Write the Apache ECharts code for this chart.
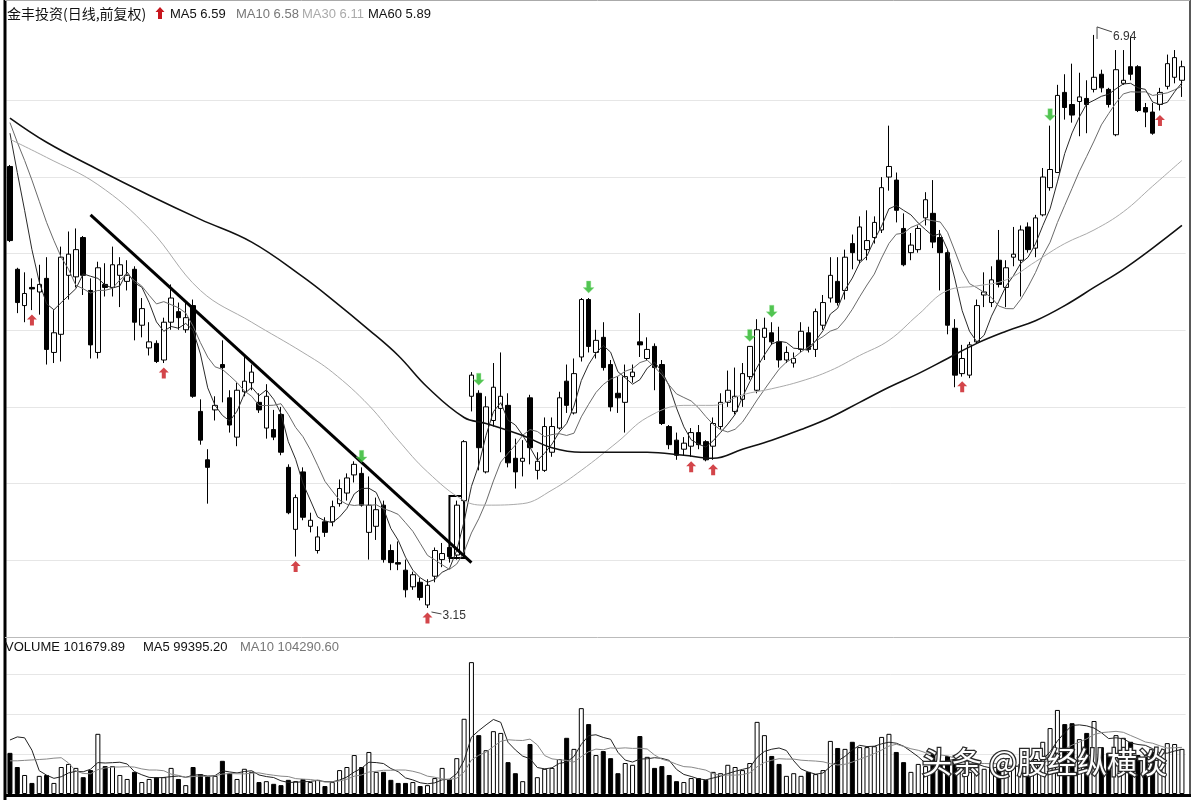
<!DOCTYPE html>
<html><head><meta charset="utf-8">
<script src="https://cdn.jsdelivr.net/npm/echarts@6/dist/echarts.min.js"></script>
<style>html,body{margin:0;padding:0;background:#fff}#c{width:1194px;height:800px}</style>
</head><body><div id="c"></div>
<script>
// [open, close, low, high]
const candles = [
[6.07,5.58,5.57,6.08],[5.39,5.17,5.10,5.40],[5.15,5.23,5.04,5.37],[5.27,5.26,5.12,5.33],[5.24,5.29,5.09,5.42],
[5.33,4.86,4.76,5.47],[4.84,4.97,4.77,5.12],[4.96,5.47,4.78,5.54],[5.35,5.49,5.19,5.64],[5.34,5.52,5.27,5.66],
[5.60,5.35,5.22,5.61],[5.25,4.89,4.80,5.33],[4.84,5.40,4.80,5.44],[5.29,5.27,5.21,5.43],[5.27,5.42,5.21,5.54],
[5.35,5.42,5.14,5.47],[5.31,5.35,5.25,5.45],[5.39,5.04,4.92,5.41],[5.02,5.13,4.94,5.20],[4.87,4.91,4.82,5.04],
[4.90,4.78,4.77,4.92],[4.79,5.04,4.77,5.07],[5.04,5.20,4.99,5.29],[5.11,5.07,4.99,5.17],[4.99,5.07,4.97,5.17],
[5.15,4.55,4.54,5.19],[4.45,4.26,4.23,4.53],[4.13,4.08,3.84,4.20],[4.46,4.49,4.39,4.55],[4.76,4.74,4.51,4.92],
[4.54,4.36,4.31,4.59],[4.28,4.59,4.22,4.64],[4.58,4.65,4.55,4.81],[4.64,4.71,4.59,4.76],[4.51,4.46,4.44,4.57],
[4.34,4.55,4.27,4.63],[4.33,4.28,4.26,4.46],[4.43,4.18,4.16,4.48],[4.08,3.78,3.77,4.10],[3.67,3.88,3.49,3.90],
[4.05,3.75,3.73,4.08],[3.69,3.73,3.65,3.78],[3.53,3.62,3.51,3.69],[3.72,3.65,3.62,3.75],[3.72,3.82,3.69,3.86],
[3.84,3.94,3.82,4.00],[3.91,4.01,3.86,4.04],[4.03,4.10,3.98,4.12],[4.04,3.83,3.82,4.08],[3.65,3.83,3.47,4.02],
[3.69,3.80,3.60,3.88],[3.83,3.47,3.45,3.86],[3.53,3.45,3.40,3.57],[3.45,3.44,3.40,3.59],[3.40,3.27,3.22,3.47],
[3.29,3.37,3.27,3.39],[3.32,3.22,3.20,3.35],[3.17,3.30,3.15,3.34],[3.36,3.53,3.32,3.55],[3.47,3.51,3.42,3.58],
[3.55,3.49,3.45,3.57],[3.50,3.83,3.47,3.86],[3.86,4.25,3.84,4.26],[4.55,4.69,4.45,4.71],[4.57,4.21,4.06,4.59],
[4.05,4.48,4.04,4.55],[4.39,4.61,4.35,4.77],[4.47,4.55,4.18,4.84],[4.49,4.11,4.08,4.57],[4.14,4.05,3.94,4.27],
[4.12,4.14,4.02,4.26],[4.54,4.21,4.10,4.56],[4.06,4.12,4.00,4.18],[4.06,4.35,4.05,4.41],[4.18,4.35,4.15,4.41],
[4.34,4.54,4.33,4.58],[4.65,4.49,4.44,4.76],[4.44,4.70,4.43,4.80],[4.81,5.19,4.78,5.20],[5.19,4.88,4.84,5.20],
[4.84,4.92,4.80,4.99],[4.94,4.74,4.72,5.04],[4.76,4.48,4.45,4.79],[4.57,4.54,4.44,4.68],[4.51,4.68,4.31,4.76],
[4.68,4.71,4.64,4.76],[4.91,4.89,4.81,5.10],[4.80,4.86,4.79,4.94],[4.88,4.74,4.59,4.90],[4.76,4.37,4.36,4.79],
[4.35,4.23,4.20,4.36],[4.26,4.16,4.13,4.31],[4.20,4.24,4.16,4.28],[4.22,4.31,4.15,4.34],[4.31,4.23,4.20,4.36],
[4.25,4.13,4.12,4.26],[4.22,4.37,4.13,4.41],[4.35,4.51,4.33,4.57],[4.51,4.59,4.48,4.72],[4.45,4.55,4.43,4.74],
[4.53,4.70,4.48,4.77],[4.68,4.88,4.66,4.88],[4.59,4.99,4.57,5.06],[4.94,5.00,4.79,5.07],[4.97,4.91,4.89,5.04],
[4.91,4.79,4.74,5.01],[4.79,4.84,4.77,4.88],[4.77,4.80,4.74,4.84],[4.86,4.98,4.84,5.04],[4.97,4.86,4.84,5.01],
[4.86,5.11,4.81,5.13],[5.02,5.17,4.99,5.22],[5.20,5.35,5.17,5.47],[5.31,5.17,5.15,5.47],[5.25,5.47,5.19,5.52],
[5.56,5.50,5.39,5.62],[5.45,5.67,5.43,5.74],[5.52,5.58,5.45,5.78],[5.60,5.70,5.56,5.74],[5.65,5.93,5.63,6.00],
[6.00,6.07,5.91,6.34],[5.98,5.78,5.70,6.03],[5.66,5.42,5.41,5.76],[5.50,5.55,5.45,5.63],[5.52,5.66,5.50,5.68],
[5.73,5.85,5.68,5.90],[5.76,5.57,5.53,5.98],[5.60,5.50,5.25,5.65],[5.50,5.02,4.96,5.52],[5.00,4.69,4.61,5.06],
[4.70,4.80,4.68,4.89],[4.69,4.89,4.67,4.91],[4.91,5.15,4.90,5.19],[5.22,5.24,5.14,5.37],[5.17,5.32,5.14,5.41],
[5.45,5.29,5.27,5.65],[5.27,5.40,5.14,5.45],[5.47,5.49,5.41,5.67],[5.45,5.65,5.21,5.68],[5.67,5.52,5.50,5.70],
[5.53,5.73,5.47,5.75],[5.75,6.00,5.74,6.06],[5.93,6.05,5.91,6.34],[6.03,6.54,6.03,6.61],[6.56,6.46,6.38,6.68],
[6.48,6.41,6.36,6.75],[6.50,6.53,6.27,6.69],[6.52,6.48,6.29,6.64],[6.58,6.66,6.56,6.94],[6.68,6.59,6.56,6.71],
[6.58,6.48,6.46,6.59],[6.28,6.71,6.27,6.84],[6.62,6.64,6.61,6.84],[6.73,6.68,6.64,6.93],[6.73,6.44,6.43,6.74],
[6.46,6.43,6.33,6.49],[6.43,6.29,6.28,6.49],[6.48,6.56,6.44,6.59],[6.60,6.75,6.58,6.81],[6.66,6.79,6.62,6.84],
[6.64,6.73,6.53,6.77]
];
// volume, thousands of shares
const volumes = [
93,61,43,25,41,43,25,61,68,59, 38,54,136,63,63,43,34,50,27,34,
38,38,59,34,20,61,45,41,41,75, 47,34,57,50,27,29,23,20,32,29,
34,27,32,18,27,54,61,88,61,95, 50,50,32,25,25,27,18,20,36,59,
34,81,170,298,133,99,142,138,72,47, 29,113,38,57,59,79,127,102,194,158,
88,97,81,47,70,66,131,84,59,63, 43,29,27,36,36,32,50,47,66,61,
54,70,163,133,86,68,41,47,41,50, 45,54,120,104,102,118,106,106,108,129,
136,95,72,50,68,63,90,72,86,79, 57,50,68,57,61,68,57,63,68,63,
79,118,149,190,158,160,124,138,165,106, 93,133,127,118,88,84,95,79,115,113,
102
];
// MA values visible at the left edge (before a full window of candles exists)
const ma5Head = [6.29, 6.03, 5.78, 5.52];
const ma10Head = [6.36, 6.23, 6.11, 5.98, 5.84, 5.70, 5.58, 5.47, 5.39];
const volMa5Head = [122, 129, 127, 99];
const volMa10Head = [75, 75, 76, 77, 78, 79, 81, 82, 70];
// MA30 / MA60: [candle index, price]
const ma30Points = [[0,6.25],[5,6.13],[12,5.95],[19,5.66],[26,5.25],[33,5.04],[40,4.84],[44,4.71],[49,4.49],[53,4.26],[57,4.05],[62,3.86],[65,3.83],[70,3.84],[74,3.93],[78,4.06],[83,4.25],[87,4.41],[92,4.49],[96,4.49],[100,4.56],[104,4.60],[108,4.65],[112,4.72],[116,4.82],[120,4.92],[124,5.09],[128,5.25],[132,5.28],[136,5.32],[140,5.44],[144,5.56],[148,5.65],[152,5.77],[156,5.94],[160,6.11]];
const ma60Points = [[0,6.39],[5,6.23],[12,6.05],[19,5.88],[26,5.72],[33,5.57],[40,5.34],[44,5.19],[49,4.99],[53,4.82],[57,4.61],[62,4.41],[65,4.37],[70,4.29],[74,4.21],[78,4.18],[83,4.18],[87,4.18],[92,4.16],[96,4.14],[100,4.20],[104,4.26],[108,4.33],[112,4.41],[116,4.51],[120,4.61],[124,4.70],[128,4.80],[132,4.90],[136,4.98],[140,5.05],[144,5.15],[148,5.27],[152,5.39],[156,5.53],[160,5.68]];
const buySignals = [3, 21, 39, 57, 93, 96, 130, 157];
const sellSignals = [48, 64, 79, 101, 104, 142];
const trendLine = [[11, 5.75], [63, 3.45]];
const boxRange = { from: 60, to: 62, top: 3.89, bottom: 3.48 };
const highLabel = { index: 148, value: 6.94, text: '6.94' };
const lowLabel = { index: 57, value: 3.15, text: '3.15' };
const titleText = '金丰投资(日线,前复权)';
const maLegend = [['MA5', '6.59'], ['MA10', '6.58'], ['MA30', '6.11'], ['MA60', '5.89']];
const volLegend = [['VOLUME', '101679.89'], ['MA5', '99395.20'], ['MA10', '104290.60']];
const watermark = '头条 @股经纵横谈';

const categories = candles.map((_, i) => String(i));
const closes = candles.map(c => c[1]);
function movingAvg(values, n, head, digits) {
  return values.map((_, i) => {
    if (i < n - 1) return head[i] !== undefined ? head[i] : null;
    let s = 0;
    for (let k = i - n + 1; k <= i; k++) s += values[k];
    return +(s / n).toFixed(digits);
  });
}
const ma5 = movingAvg(closes, 5, ma5Head, 3);
const ma10 = movingAvg(closes, 10, ma10Head, 3);
const vma5 = movingAvg(volumes, 5, volMa5Head, 1);
const vma10 = movingAvg(volumes, 10, volMa10Head, 1);
const volBars = volumes.map((v, i) => ({
  value: v,
  itemStyle: { color: candles[i][1] >= candles[i][0] ? '#ffffff' : '#000000', borderColor: '#000', borderWidth: 1 }
}));

const chart = echarts.init(document.getElementById('c'), null, { renderer: 'canvas' });
const L = 6.3, R = 8.4;
const gridColorsMain = ['rgba(0,0,0,0)', '#e6e6e6', '#e6e6e6', '#e6e6e6', '#e6e6e6', '#e6e6e6', '#e6e6e6', '#e6e6e6', 'rgba(0,0,0,0)'];
const gridColorsVol = ['rgba(0,0,0,0)', '#e6e6e6', '#e6e6e6', '#e6e6e6'];
const lineBase = { type: 'line', showSymbol: false, symbol: 'none', silent: true, z: 4 };

const option = {
  animation: false,
  backgroundColor: '#fff',
  grid: [
    { left: L, right: R, top: 5, height: 632 },
    { left: L, right: R, top: 657, height: 137 }
  ],
  xAxis: [
    { type: 'category', gridIndex: 0, data: categories, boundaryGap: true, show: false },
    { type: 'category', gridIndex: 1, data: categories, boundaryGap: true, show: false }
  ],
  yAxis: [
    { type: 'value', gridIndex: 0, min: 2.958, max: 7.138, show: false, scale: true },
    { type: 'value', gridIndex: 0, min: 0, max: 8.243, interval: 1, axisLine: { show: false }, axisTick: { show: false }, axisLabel: { show: false },
      splitLine: { show: true, lineStyle: { color: gridColorsMain, width: 1 } } },
    { type: 'value', gridIndex: 1, min: 0, max: 309.6, show: false },
    { type: 'value', gridIndex: 1, min: 0, max: 3.425, interval: 1, axisLine: { show: false }, axisTick: { show: false }, axisLabel: { show: false },
      splitLine: { show: true, lineStyle: { color: gridColorsVol, width: 1 } } }
  ],
  series: [
    {
      type: 'candlestick', xAxisIndex: 0, yAxisIndex: 0, data: candles, barWidth: 5, z: 3,
      itemStyle: { color: '#fff', color0: '#000', borderColor: '#000', borderColor0: '#000', borderWidth: 1 },
      markLine: {
        silent: true, symbol: ['none', 'none'], label: { show: false },
        lineStyle: { color: '#000', width: 3, type: 'solid' },
        data: [[{ coord: trendLine[0] }, { coord: trendLine[1] }]]
      },
      markArea: {
        silent: true, label: { show: false },
        itemStyle: { color: 'rgba(0,0,0,0)', borderColor: '#000', borderWidth: 2 },
        data: [[{ coord: [boxRange.from, boxRange.top] }, { coord: [boxRange.to, boxRange.bottom] }]]
      }
    },
    Object.assign({}, lineBase, { name: 'MA5', xAxisIndex: 0, yAxisIndex: 0, data: ma5, lineStyle: { color: '#2a2a2a', width: 1 } }),
    Object.assign({}, lineBase, { name: 'MA10', xAxisIndex: 0, yAxisIndex: 0, data: ma10, lineStyle: { color: '#6a6a6a', width: 1 } }),
    Object.assign({}, lineBase, { name: 'MA30', xAxisIndex: 0, yAxisIndex: 0, data: ma30Points, smooth: 0.4, lineStyle: { color: '#aaaaaa', width: 1 } }),
    Object.assign({}, lineBase, { name: 'MA60', xAxisIndex: 0, yAxisIndex: 0, data: ma60Points, smooth: 0.4, lineStyle: { color: '#111111', width: 1.6 } }),
    {
      type: 'scatter', xAxisIndex: 0, yAxisIndex: 0, silent: true, z: 6,
      symbol: 'path://M5 0 L10 5 L7 5 L7 11 L3 11 L3 5 L0 5 Z', symbolSize: [10, 11], symbolOffset: [0, 10],
      itemStyle: { color: '#c8161d' },
      data: buySignals.map(i => [i, candles[i][2]])
    },
    {
      type: 'scatter', xAxisIndex: 0, yAxisIndex: 0, silent: true, z: 6,
      symbol: 'path://M3 0 L7 0 L7 6 L10 6 L5 11 L0 6 L3 6 Z', symbolSize: [11, 12], symbolOffset: [0, -11],
      itemStyle: { color: '#25b525', borderColor: '#9be39b', borderWidth: 0.5 },
      data: sellSignals.map(i => [i, candles[i][3]])
    },
    { type: 'bar', xAxisIndex: 1, yAxisIndex: 2, data: volBars, barWidth: 5, silent: true, z: 3 },
    Object.assign({}, lineBase, { name: 'VMA5', xAxisIndex: 1, yAxisIndex: 2, data: vma5, lineStyle: { color: '#222', width: 1 } }),
    Object.assign({}, lineBase, { name: 'VMA10', xAxisIndex: 1, yAxisIndex: 2, data: vma10, lineStyle: { color: '#888', width: 1 } })
  ]
};
chart.setOption(option);

const hp = chart.convertToPixel({ seriesIndex: 0 }, [highLabel.index, highLabel.value]);
const lp = chart.convertToPixel({ seriesIndex: 0 }, [lowLabel.index, lowLabel.value]);
const latin = '13px "Liberation Sans", Arial, sans-serif';
const cjk = '14px "Noto Sans CJK SC", sans-serif';
const maColors = ['#111', '#777', '#aaa', '#111'];
const maX = [170, 236, 302, 368];
const volColors = ['#111', '#111', '#777'];
const volX = [5, 143, 240];

const graphics = [
  // frame
  { type: 'line', z: 100, shape: { x1: 5, y1: 0, x2: 5, y2: 800 }, style: { stroke: '#000', lineWidth: 3 } },
  { type: 'line', z: 100, shape: { x1: 1190, y1: 0, x2: 1190, y2: 797 }, style: { stroke: '#222', lineWidth: 1.5 } },
  { type: 'line', z: 100, shape: { x1: 4, y1: 795.5, x2: 1191, y2: 795.5 }, style: { stroke: '#000', lineWidth: 3 } },
  { type: 'line', z: 100, shape: { x1: 5, y1: 637.5, x2: 1190, y2: 637.5 }, style: { stroke: '#bbb', lineWidth: 1 } },
  { type: 'line', z: 100, shape: { x1: 5, y1: 0.5, x2: 1190, y2: 0.5 }, style: { stroke: '#aaa', lineWidth: 1 } },
  // title legend
  { type: 'text', z: 101, style: { x: 7, y: 14, text: titleText, font: cjk, fill: '#111', verticalAlign: 'middle' } },
  { type: 'polygon', z: 101, shape: { points: [[160, 7], [164.5, 12], [162, 12], [162, 19], [158, 19], [158, 12], [155.5, 12]] }, style: { fill: '#c8161d' } },
  // high / low labels
  { type: 'polyline', z: 101, shape: { points: [[hp[0] + 3, hp[1] + 4], [hp[0] + 3, hp[1] - 8], [hp[0] + 18, hp[1] - 3]] }, style: { stroke: '#444', lineWidth: 1, fill: null } },
  { type: 'text', z: 101, style: { x: hp[0] + 19, y: hp[1] + 2, text: highLabel.text, font: '12px "Liberation Sans", Arial, sans-serif', fill: '#333', verticalAlign: 'middle' } },
  { type: 'line', z: 101, shape: { x1: lp[0] + 4, y1: lp[1] + 4, x2: lp[0] + 14, y2: lp[1] + 6 }, style: { stroke: '#444', lineWidth: 1 } },
  { type: 'text', z: 101, style: { x: lp[0] + 15, y: lp[1] + 8, text: lowLabel.text, font: '12px "Liberation Sans", Arial, sans-serif', fill: '#333', verticalAlign: 'middle' } },
  // watermark
  { type: 'text', z: 102, style: { x: 922, y: 762, text: watermark, font: '30px "Noto Sans CJK SC", sans-serif', fill: '#ffffff', stroke: '#2a2a2a', lineWidth: 2.5, verticalAlign: 'middle' } }
];
maLegend.forEach((m, k) => graphics.push({ type: 'text', z: 101, style: { x: maX[k], y: 14, text: m[0] + ' ' + m[1], font: latin, fill: maColors[k], verticalAlign: 'middle' } }));
volLegend.forEach((m, k) => graphics.push({ type: 'text', z: 101, style: { x: volX[k], y: 647, text: m[0] + ' ' + m[1], font: latin, fill: volColors[k], verticalAlign: 'middle' } }));
chart.setOption({ graphic: graphics });
</script>
</body></html>
